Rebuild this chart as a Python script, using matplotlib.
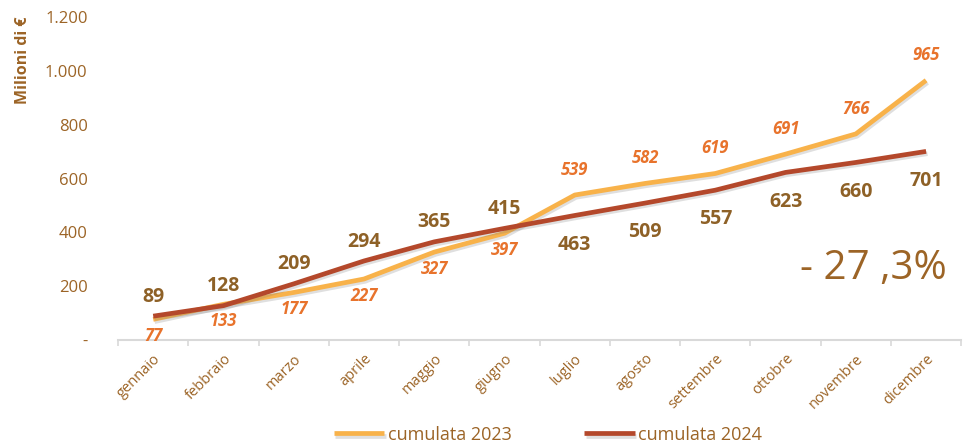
import matplotlib.pyplot as plt
import matplotlib.patheffects as pe
import numpy as np

# ── Data ───────
months = ["gennaio", "febbraio", "marzo", "aprile", "maggio", "giugno",
          "luglio", "agosto", "settembre", "ottobre", "novembre", "dicembre"]
cum_2023 = [77, 133, 177, 227, 327, 397, 539, 582, 619, 691, 766, 965]
cum_2024 = [89, 128, 209, 294, 365, 415, 463, 509, 557, 623, 660, 701]
yticks = [0, 200, 400, 600, 800, 1000, 1200]
ytick_labels = ["-", "200", "400", "600", "800", "1.000", "1.200"]

# ── Colors ──────
C_2023 = "#F8B24A"
C_2024 = "#B4482B"
C_LAB23 = "#E8732C"
C_TEXT = "#9C6426"
C_LAB24 = "#8E6127"
C_AXIS = "#D9D9D9"

plt.rcParams["font.family"] = ["Open Sans", "DejaVu Sans"]

fig = plt.figure(figsize=(9.68, 4.44), dpi=100)
ax = fig.add_axes([0.122, 0.234, 0.871, 0.7275])

shadow = [pe.SimpleLineShadow(offset=(1.0, -1.6), shadow_color="#808080", alpha=0.25),
          pe.Normal()]
x = np.arange(len(months))
ax.plot(x, cum_2023, color=C_2023, linewidth=3.4, solid_capstyle="butt",
        label="cumulata 2023", zorder=2, path_effects=shadow)
ax.plot(x, cum_2024, color=C_2024, linewidth=3.4, solid_capstyle="butt",
        label="cumulata 2024", zorder=3, path_effects=shadow)

# data labels: first six months 2024 above / 2023 below, then swapped
for i in range(len(months)):
    if i < 6:
        off23, off24 = -12, 14
    else:
        off23, off24 = 18, -21
    ax.annotate(str(cum_2023[i]), (x[i], cum_2023[i]), textcoords="offset points",
                xytext=(0, off23), ha="center", va="center", fontsize=12,
                fontweight="bold", fontstyle="italic", color=C_LAB23)
    ax.annotate(str(cum_2024[i]), (x[i], cum_2024[i]), textcoords="offset points",
                xytext=(0, off24), ha="center", va="center", fontsize=14,
                fontweight="bold", color=C_LAB24)

ax.set_xlim(-0.5, len(months) - 0.5)
ax.set_ylim(0, 1200)
ax.set_yticks(yticks)
ax.set_yticklabels(ytick_labels, fontsize=12, color=C_TEXT)
ax.tick_params(axis="y", length=0, pad=22)

ax.set_xticks(x)
ax.set_xticklabels(months, rotation=45, ha="right", rotation_mode="anchor",
                   fontsize=10.5, color=C_TEXT)
ax.set_xticks(np.arange(-0.5, len(months)), minor=True)
ax.tick_params(axis="x", which="major", length=0, pad=8)
ax.tick_params(axis="x", which="minor", length=4, color=C_AXIS, width=1.2)

for s in ["top", "right", "left"]:
    ax.spines[s].set_visible(False)
ax.spines["bottom"].set_color(C_AXIS)
ax.spines["bottom"].set_linewidth(1.5)

fig.text(0.024, 0.865, "Milioni di €", rotation=90, ha="center", va="center",
         fontsize=11.5, fontweight="bold", color=C_TEXT)

fig.text(0.902, 0.395, "- 27 ,3%", ha="center", va="center", fontsize=29,
         color=C_TEXT)

ax.legend(loc="upper center", bbox_to_anchor=(0.51, -0.215), ncol=2,
          frameon=False, fontsize=13, labelcolor=C_TEXT, handlelength=2.8,
          handletextpad=0.2, columnspacing=4.0)

fig.savefig("out.png", dpi=100, facecolor="white")
